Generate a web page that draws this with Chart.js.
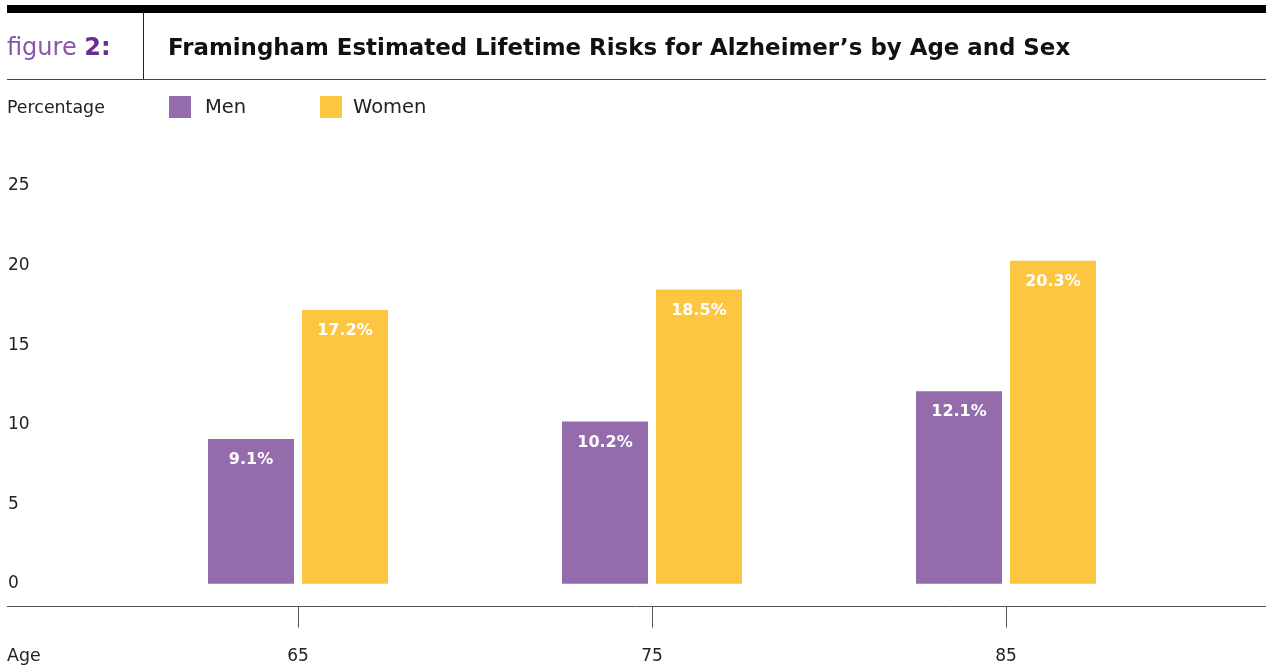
<!DOCTYPE html>
<html>
<head>
<meta charset="utf-8">
<script src="https://cdn.jsdelivr.net/npm/chart.js@4/dist/chart.umd.min.js"></script>
<style>
  html,body{margin:0;padding:0;background:#fff;}
  #wrap{position:relative;width:1266px;height:666px;overflow:hidden;font-family:"DejaVu Sans",sans-serif;color:#222;}
  #topbar{position:absolute;left:7px;top:5px;width:1259px;height:8px;background:#000;}
  #vline{position:absolute;left:143px;top:13px;width:1px;height:67px;background:#222;}
  #hline{position:absolute;left:7px;top:79px;width:1259px;height:1px;background:#444;}
  #fig{position:absolute;left:7px;top:32px;font-size:24px;color:#8b55a9;line-height:30px;}
  #fig b{color:#6b2d8f;}
  #title{position:absolute;left:168px;top:32px;font-size:22.9px;font-weight:bold;color:#111;line-height:30px;white-space:nowrap;}
  #ylab{position:absolute;left:7px;top:96px;font-size:17.4px;line-height:22px;color:#222;}
  #legend{position:absolute;left:169px;top:96px;height:22px;}
  .lg{position:absolute;top:0;white-space:nowrap;font-size:19.5px;line-height:22px;color:#222;}
  .lg i{position:absolute;left:0;top:0;width:22px;height:22px;}
  .lg span{position:absolute;top:0;}
  #xlab{position:absolute;left:7px;top:644px;font-size:17.4px;line-height:22px;color:#222;}
  #c{position:absolute;left:0;top:0;}
</style>
</head>
<body>
<div id="wrap">
  <canvas id="c" width="1266" height="686"></canvas>
  <div id="topbar"></div>
  <div id="vline"></div>
  <div id="hline"></div>
  <div id="fig">figure <b>2:</b></div>
  <div id="title">Framingham Estimated Lifetime Risks for Alzheimer’s by Age and Sex</div>
  <div id="ylab">Percentage</div>
  <div id="legend"></div>
  <div id="xlab">Age</div>
</div>
<script>
// datos
const ages=['65','75','85'];
const men=[9.1,10.2,12.1];
const women=[17.2,18.5,20.3];
const yTicks=[0,5,10,15,20,25];
const SERIES=[{label:'Men',data:men,color:'#946cab'},
              {label:'Women',data:women,color:'#fcc642'}];
const FONT='"DejaVu Sans", sans-serif';

// leyenda en html a partir de las series
const lgPos=[0,151];
document.getElementById('legend').innerHTML=SERIES.map((s,i)=>
  '<div class="lg" style="left:'+lgPos[i]+'px"><i style="background:'+s.color+'"></i><span style="left:'+(i?33:36)+'px">'+s.label+'</span></div>').join('');

// etiquetas blancas dentro de cada barra
const barLabels={id:'barLabels',afterDatasetsDraw(ch){
  const ctx=ch.ctx; ctx.save();
  ctx.fillStyle='#fff'; ctx.font='bold 16px '+FONT;
  ctx.textAlign='center'; ctx.textBaseline='middle';
  ch.data.datasets.forEach((ds,di)=>{
    ch.getDatasetMeta(di).data.forEach((bar,i)=>{ ctx.fillText(ds.data[i].toFixed(1)+'%',bar.x,bar.y+21); });
  });
  ctx.restore();
}};
// linea del eje x a todo el ancho
const axisLine={id:'axisLine',afterDraw(ch){
  const y=Math.round(ch.scales.x.top)+0.5,ctx=ch.ctx; ctx.save();
  ctx.strokeStyle='#555'; ctx.lineWidth=1;
  ctx.beginPath(); ctx.moveTo(7,y); ctx.lineTo(1266,y); ctx.stroke(); ctx.restore();
}};

new Chart(document.getElementById('c'),{
  type:'bar',
  data:{labels:ages,datasets:SERIES.map(s=>({label:s.label,data:s.data,backgroundColor:s.color,borderWidth:0,
    categoryPercentage:0.531,barPercentage:0.915}))},
  options:{responsive:false,animation:false,
    layout:{padding:{left:8,right:83,top:186,bottom:0}},
    plugins:{legend:{display:false},tooltip:{enabled:false}},
    scales:{
      y:{min:-1.375,max:25,
        afterBuildTicks:(ax)=>{ax.ticks=yTicks.map(v=>({value:v}));},
        afterFit:(ax)=>{ax.width=113;},
        grid:{display:false},border:{display:false},
        ticks:{crossAlign:'far',color:'#222',font:{family:FONT,size:17},padding:0}},
      x:{grid:{display:true,drawOnChartArea:false,drawTicks:true,tickLength:22,offset:false,color:'#555',lineWidth:1},
        border:{display:false},
        ticks:{color:'#222',font:{family:FONT,size:17},padding:19}}
    }},
  plugins:[barLabels,axisLine]
});
</script>
</body>
</html>
